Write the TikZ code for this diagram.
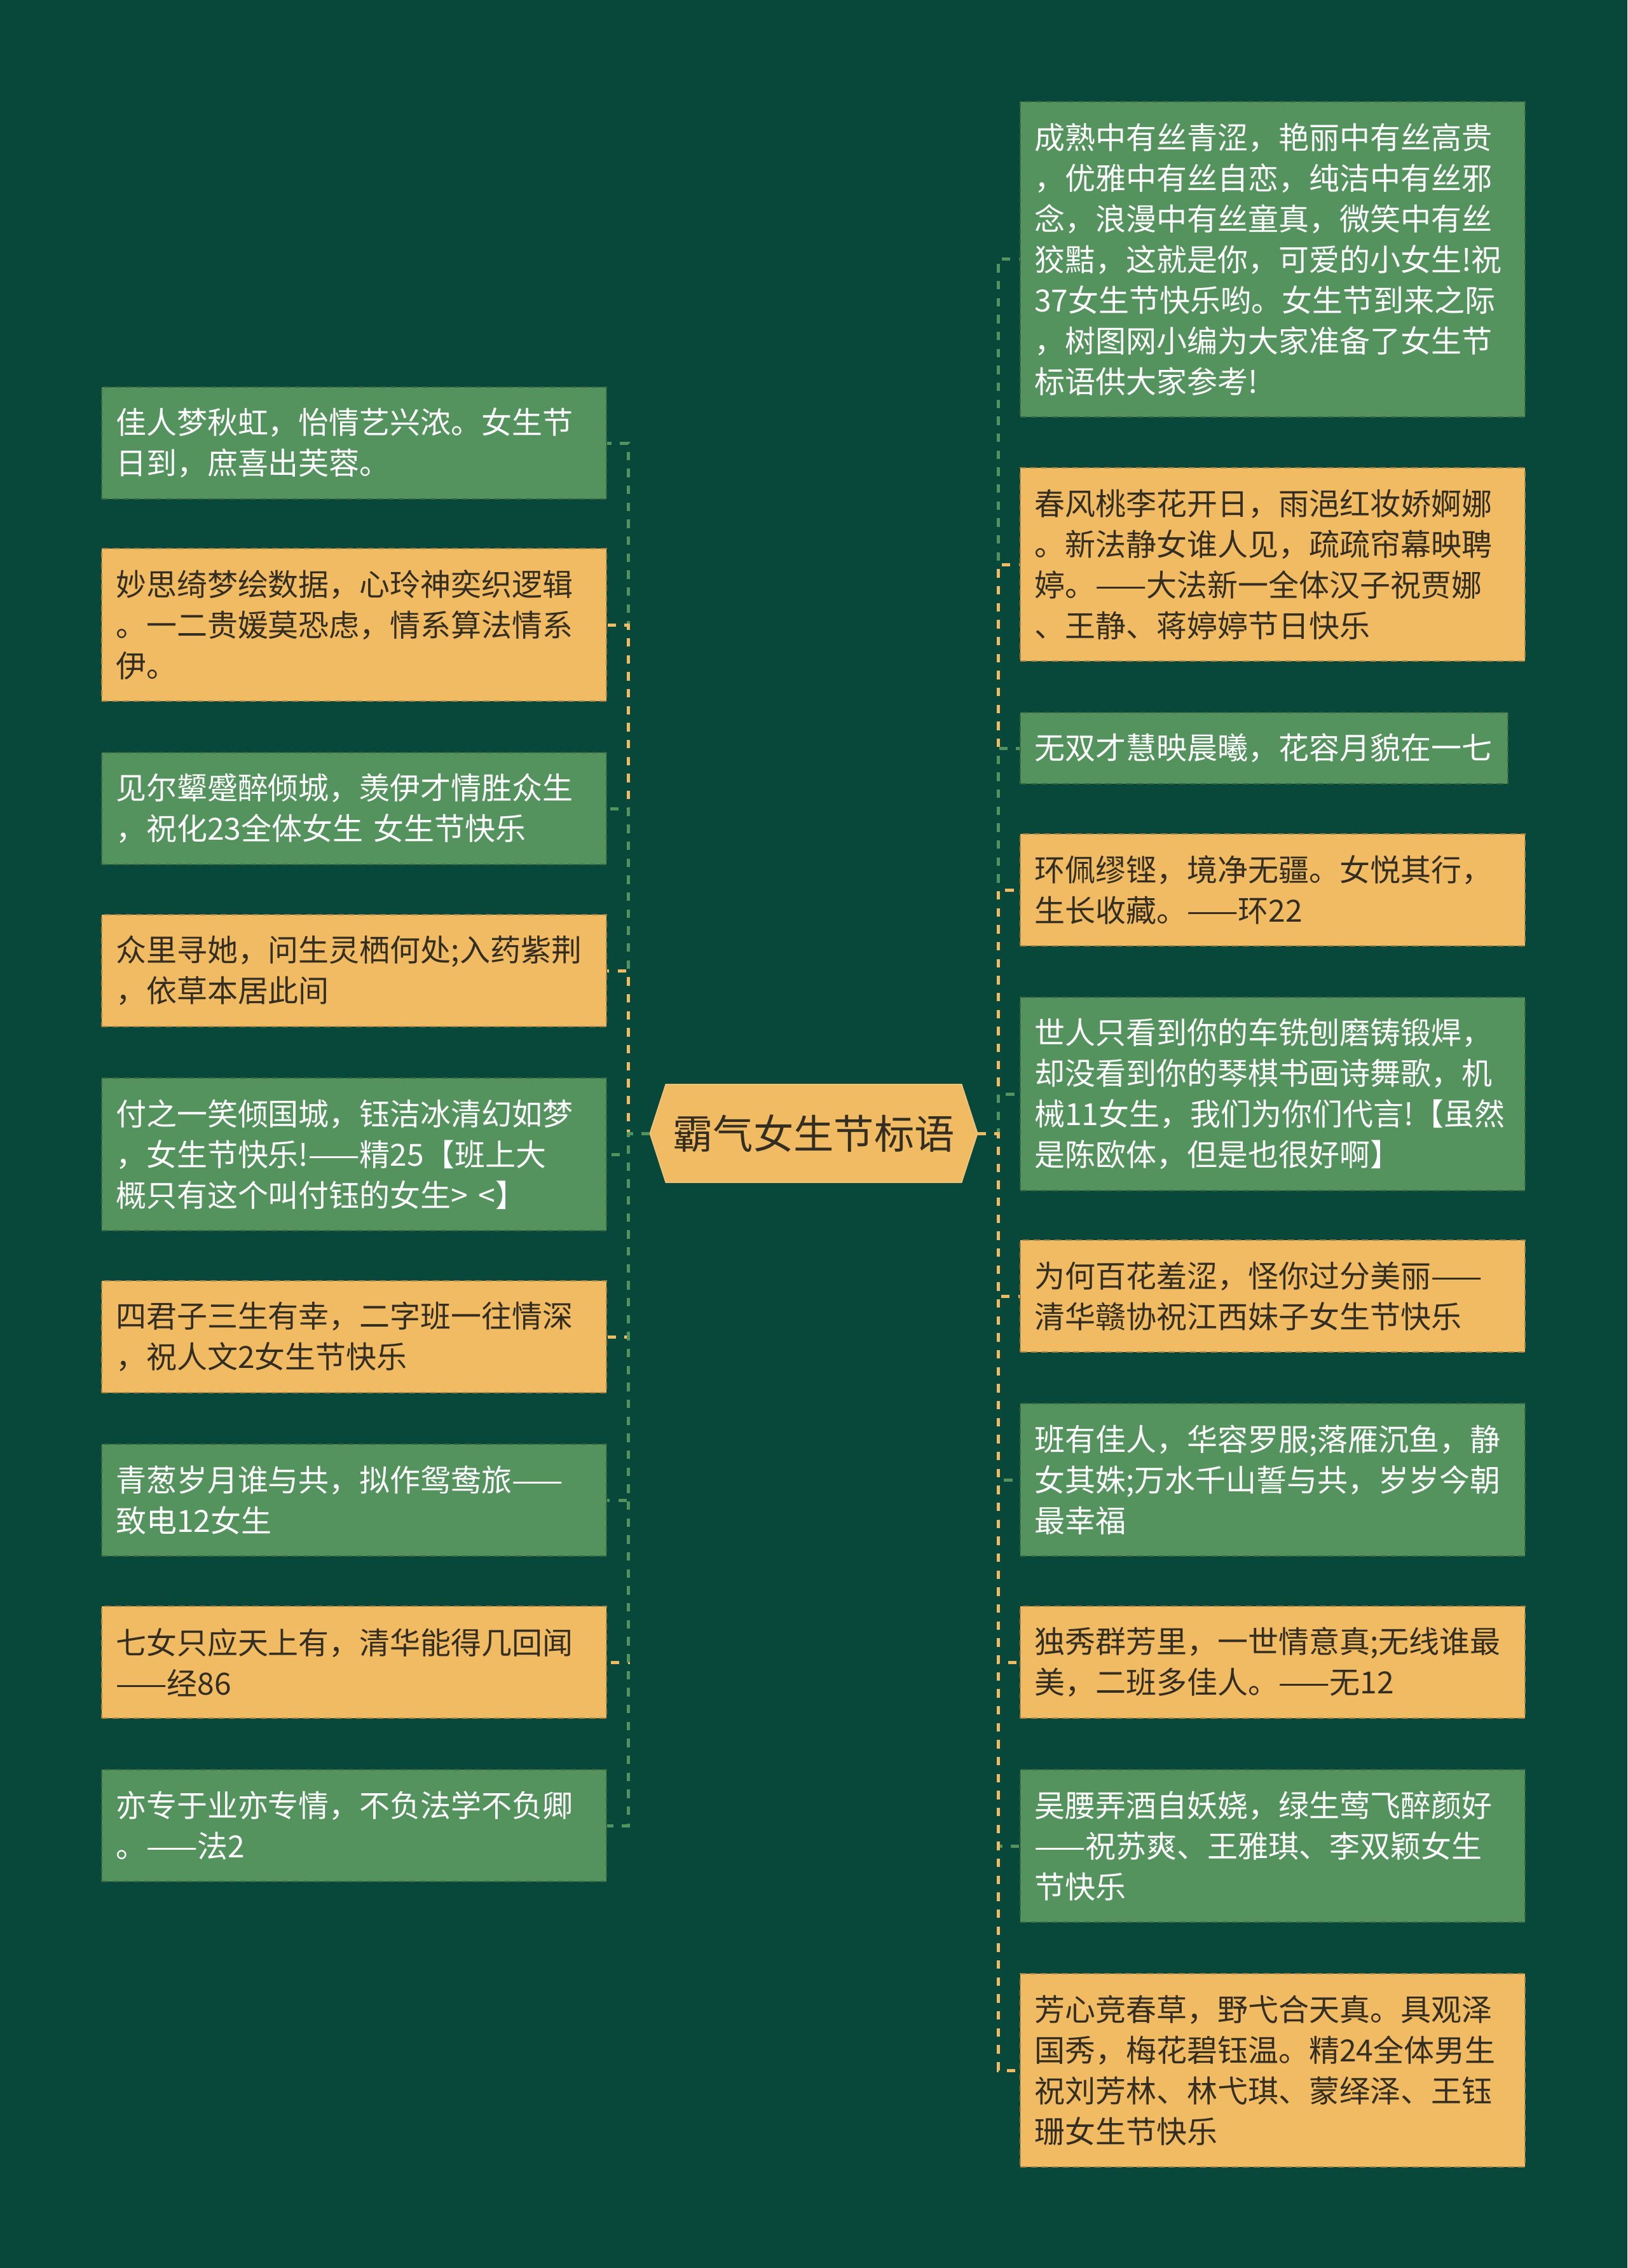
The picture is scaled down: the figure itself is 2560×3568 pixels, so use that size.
\documentclass[tikz,border=0pt]{standalone}
\usepackage{fontspec}
\setmainfont{Noto Sans CJK SC}
\usetikzlibrary{backgrounds}
\definecolor{bgcol}{RGB}{7,72,58}
\definecolor{gbox}{RGB}{84,147,94}
\definecolor{ybox}{RGB}{240,187,99}
\definecolor{dtext}{RGB}{51,46,33}
\tikzset{
  box/.style={anchor=north west, inner xsep=6.6pt, inner ysep=0pt, text width=225pt,
    align=left, font=\fontsize{14.4pt}{19.2pt}\selectfont, line width=0.6pt,
    dash pattern=on 3pt off 2pt},
  gb/.style={box, fill=gbox, draw=gbox!70!black, text=white},
  yb/.style={box, fill=ybox, draw=ybox!70!black, text=dtext},
  conn/.style={line width=1.5pt, dash pattern=on 4pt off 4pt},
  gc/.style={conn, draw=gbox},
  yc/.style={conn, draw=ybox},
  hub/.style={minimum width=154.2pt, minimum height=45.9pt, inner sep=0pt,
    font=\fontsize{19pt}{22pt}\selectfont, text=dtext}
}
\begin{document}
\begin{tikzpicture}[x=0.3pt,y=-0.3pt]
\useasboundingbox (0,0) rectangle (2560,3568);

\node[hub] (c) at (1280,1783) {霸气女生节标语};

% left column
\node[gb, minimum height=52.8pt] (L1) at (159,608) {佳人梦秋虹，怡情艺兴浓。女生节\\日到，庶喜出芙蓉。};
\node[yb, minimum height=72pt] (L2) at (159,862) {妙思绮梦绘数据，心玲神奕织逻辑\\。一二贵媛莫恐虑，情系算法情系\\伊。};
\node[gb, minimum height=52.8pt] (L3) at (159,1183) {见尔颦蹙醉倾城，羡伊才情胜众生\\，祝化23全体女生 女生节快乐};
\node[yb, minimum height=52.8pt] (L4) at (159,1438) {众里寻她，问生灵栖何处;入药紫荆\\，依草本居此间};
\node[gb, minimum height=72pt] (L5) at (159,1695) {付之一笑倾国城，钰洁冰清幻如梦\\，女生节快乐!——精25【班上大\\概只有这个叫付钰的女生> <】};
\node[yb, minimum height=52.8pt] (L6) at (159,2014) {四君子三生有幸，二字班一往情深\\，祝人文2女生节快乐};
\node[gb, minimum height=52.8pt] (L7) at (159,2271) {青葱岁月谁与共，拟作鸳鸯旅——\\致电12女生};
\node[yb, minimum height=52.8pt] (L8) at (159,2526) {七女只应天上有，清华能得几回闻\\——经86};
\node[gb, minimum height=52.8pt] (L9) at (159,2783) {亦专于业亦专情，不负法学不负卿\\。——法2};

% right column
\node[gb, minimum height=148.8pt] (R1) at (1604,159) {成熟中有丝青涩，艳丽中有丝高贵\\，优雅中有丝自恋，纯洁中有丝邪\\念，浪漫中有丝童真，微笑中有丝\\狡黠，这就是你，可爱的小女生!祝\\37女生节快乐哟。女生节到来之际\\，树图网小编为大家准备了女生节\\标语供大家参考!};
\node[yb, minimum height=91.2pt] (R2) at (1604,735) {春风桃李花开日，雨浥红妆娇婀娜\\。新法静女谁人见，疏疏帘幕映聘\\婷。——大法新一全体汉子祝贾娜\\、王静、蒋婷婷节日快乐};
\node[gb, minimum height=33.6pt, text width=216.9pt] (R3) at (1604,1120) {无双才慧映晨曦，花容月貌在一七};
\node[yb, minimum height=52.8pt] (R4) at (1604,1311) {环佩缪铿，境净无疆。女悦其行，\\生长收藏。——环22};
\node[gb, minimum height=91.2pt] (R5) at (1604,1568) {世人只看到你的车铣刨磨铸锻焊，\\却没看到你的琴棋书画诗舞歌，机\\械11女生，我们为你们代言!【虽然\\是陈欧体，但是也很好啊】};
\node[yb, minimum height=52.8pt] (R6) at (1604,1950) {为何百花羞涩，怪你过分美丽——\\清华赣协祝江西妹子女生节快乐};
\node[gb, minimum height=72pt] (R7) at (1604,2207) {班有佳人，华容罗服;落雁沉鱼，静\\女其姝;万水千山誓与共，岁岁今朝\\最幸福};
\node[yb, minimum height=52.8pt] (R8) at (1604,2526) {独秀群芳里，一世情意真;无线谁最\\美，二班多佳人。——无12};
\node[gb, minimum height=72pt] (R9) at (1604,2783) {吴腰弄酒自妖娆，绿生莺飞醉颜好\\——祝苏爽、王雅琪、李双颖女生\\节快乐};
\node[yb, minimum height=91.2pt] (R10) at (1604,3104) {芳心竞春草，野弋合天真。具观泽\\国秀，梅花碧钰温。精24全体男生\\祝刘芳林、林弋琪、蒙绎泽、王钰\\珊女生节快乐};

\coordinate (lj) at (988,1783);
\coordinate (rj) at (1570,1783);

\draw[gc] (c.west) -- (lj) |- (L1.east);
\draw[yc] (c.west) -- (lj) |- (L2.east);
\draw[gc] (c.west) -- (lj) |- (L3.east);
\draw[yc] (c.west) -- (lj) |- (L4.east);
\draw[gc] (c.west) -- (lj) |- (L5.east);
\draw[yc] (c.west) -- (lj) |- (L6.east);
\draw[gc] (c.west) -- (lj) |- (L7.east);
\draw[yc] (c.west) -- (lj) |- (L8.east);
\draw[gc] (c.west) -- (lj) |- (L9.east);

\draw[gc] (c.east) -- (rj) |- (R1.west);
\draw[yc] (c.east) -- (rj) |- (R2.west);
\draw[gc] (c.east) -- (rj) |- (R3.west);
\draw[yc] (c.east) -- (rj) |- (R4.west);
\draw[gc] (c.east) -- (rj) |- (R5.west);
\draw[yc] (c.east) -- (rj) |- (R6.west);
\draw[gc] (c.east) -- (rj) |- (R7.west);
\draw[yc] (c.east) -- (rj) |- (R8.west);
\draw[gc] (c.east) -- (rj) |- (R9.west);
\draw[yc] (c.east) -- (rj) |- (R10.west);

\begin{scope}[on background layer]
\fill[bgcol] (0,0) rectangle (2560,3568);
\filldraw[fill=ybox, draw=ybox!85!white, line width=0.5pt]
  (c.west) -- ([xshift=7.5pt]c.north west) -- ([xshift=-7.5pt]c.north east)
  -- (c.east) -- ([xshift=-7.5pt]c.south east) -- ([xshift=7.5pt]c.south west) -- cycle;
\end{scope}
\end{tikzpicture}
\end{document}
